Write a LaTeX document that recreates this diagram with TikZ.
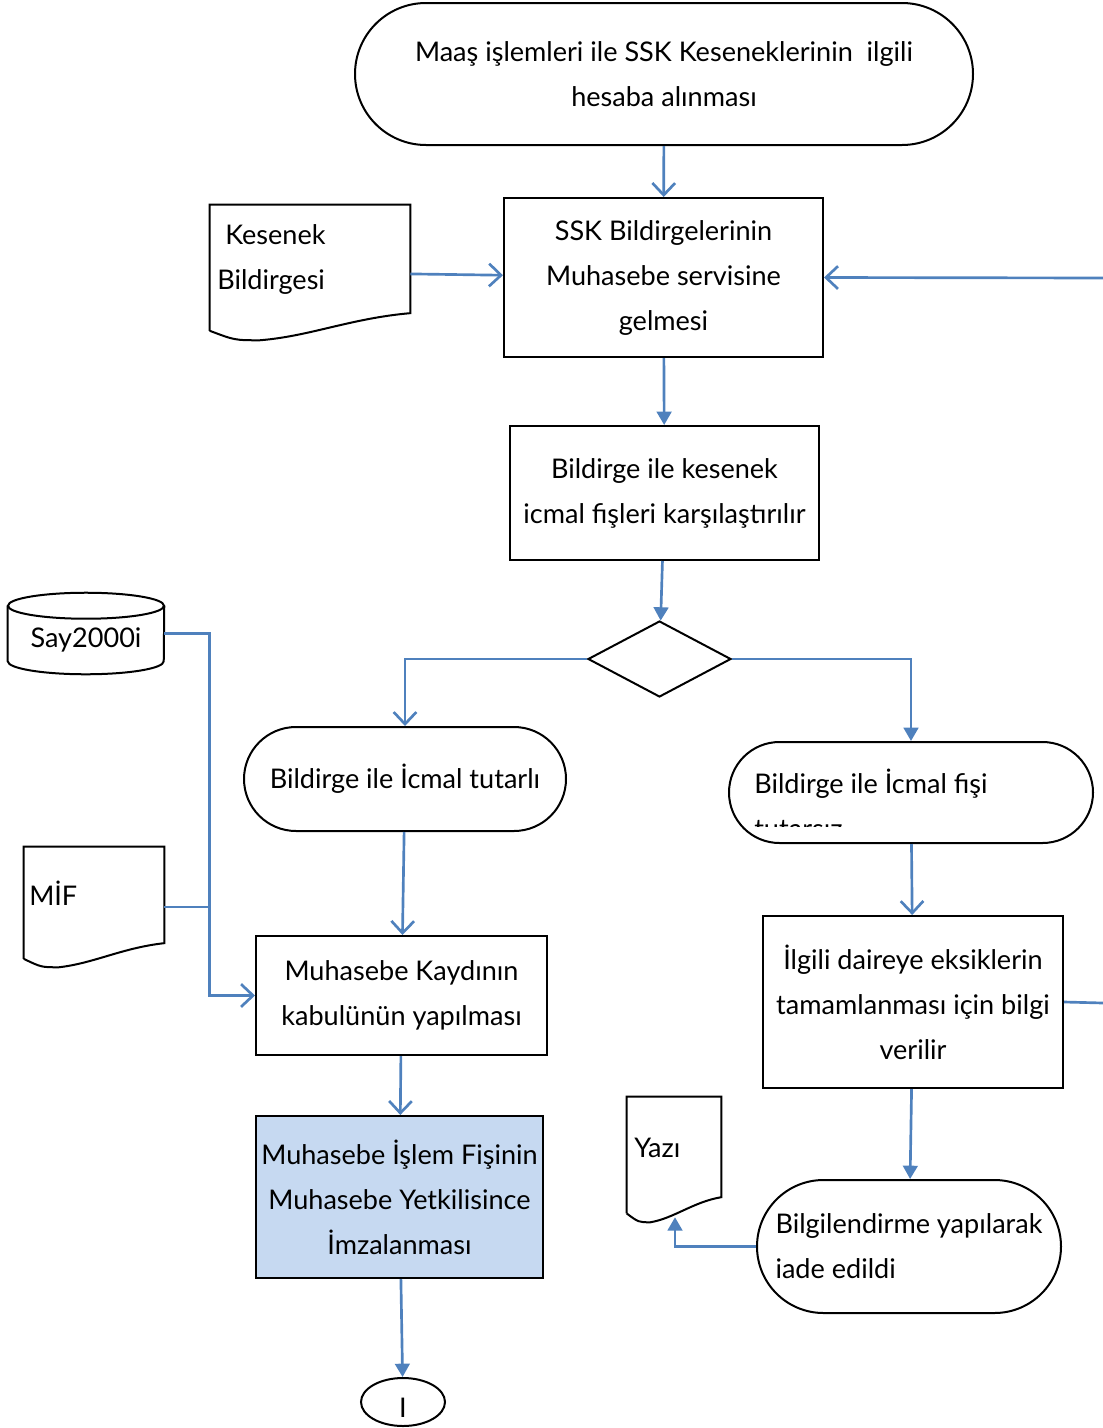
\documentclass[tikz,border=0pt]{standalone}
\usepackage{fontspec}
\setmainfont{Lato}
\usetikzlibrary{arrows.meta,calc,shapes.geometric,shapes.misc,positioning}
\definecolor{okmavi}{HTML}{4F81BD}
\definecolor{fisdolgu}{HTML}{C6D9F1}
\newcommand\pxl{0.75pt}
\newcommand\yazi{\fontsize{20.3}{33.75}\selectfont}
% belge (document) outline round an empty node
\newcommand\belge[1]{%
  \path ($(#1.south east)!0.2!(#1.north east)$) coordinate (#1-r)
        ($(#1.south west)!0.07!(#1.north west)$) coordinate (#1-l)
        ($(#1.south west)!0.25!(#1.south east)$) coordinate (#1-b);
  \draw[line width=1.5pt] (#1-l) -- (#1.north west) -- (#1.north east) -- (#1-r)
    .. controls ($(#1-r)!0.3!(#1-l)$) and ($(#1.south)+(0,-4)$) .. (#1-b)
    .. controls ($(#1-b)!0.5!(#1.south west)$) .. (#1-l);}
\begin{document}
\begin{tikzpicture}[x=0.75pt,y=-0.75pt]
            \tikzset{k/.style={draw,line width=1.5pt,rectangle,inner sep=0pt,align=center,font=\yazi},
                t/.style={draw,line width=1.5pt,rounded rectangle,inner sep=0pt,align=center,font=\yazi},
                bos/.style={inner sep=0pt},
                c/.style={draw=okmavi,line width=2pt},
                ok/.style={c,-{Straight Barb[length=9pt,width=17pt]}},
                dok/.style={c,-{Triangle[length=10pt,width=11pt]}}}
            \useasboundingbox (0,0) rectangle (1103,1428);
            % orta kolon
            \node[t,minimum width=618*\pxl,minimum height=142*\pxl](bas) at (664,74){Maaş işlemleri ile SSK Keseneklerinin\ \ ilgili\\hesaba alınması};
            \node[k,minimum width=319*\pxl,minimum height=159*\pxl](ssk) at (663.5,277.5){SSK Bildirgelerinin\\Muhasebe servisine\\gelmesi};
            \node[k,minimum width=309*\pxl,minimum height=134*\pxl](icmal) at (664.5,493){Bildirge ile kesenek\\icmal fişleri karşılaştırılır};
            \node[draw,line width=1.5pt,diamond,minimum width=143*\pxl,minimum height=76*\pxl,inner sep=0pt](karar) at (659.5,659){};
            % sol kolon
            \node[t,minimum width=322*\pxl,minimum height=104*\pxl](tutarli) at (405,779){Bildirge ile İcmal tutarlı};
            \node[k,minimum width=291*\pxl,minimum height=119*\pxl](kayit) at (401.5,995.5){Muhasebe Kaydının\\kabulünün yapılması};
            \node[k,fill=fisdolgu,minimum width=287*\pxl,minimum height=162*\pxl](imza) at (399.5,1197){Muhasebe İşlem Fişinin\\Muhasebe Yetkilisince\\İmzalanması};
            \node[draw,line width=1.5pt,ellipse,minimum width=84*\pxl,minimum height=48*\pxl,inner sep=0pt,font=\yazi](son) at (403,1402){\raisebox{-4pt}[\height][\depth]{I}};
            % sag kolon
            \node[t,minimum width=364*\pxl,minimum height=101*\pxl](tutarsiz) at (911,792.5){};
            \node[bos,font=\yazi,anchor=base west](fisi) at (754,793){Bildirge ile İcmal fişi};
            \begin{scope}
                \clip (729,742) rectangle (1093,826);
                \node[bos,font=\yazi,anchor=base west](tutarsizyazi) at (754,838){tutarsız};
            \end{scope}
            \node[k,minimum width=300*\pxl,minimum height=172*\pxl](daire) at (913,1002){İlgili daireye eksiklerin\\tamamlanması için bilgi\\verilir};
            \node[t,align=left,minimum width=304*\pxl,minimum height=133*\pxl](iade) at (909,1246.5){Bilgilendirme yapılarak\\iade edildi};
            % belgeler ve veri
            \node[bos,minimum width=200*\pxl,minimum height=135*\pxl](kesenek) at (310,272.5){};
            \belge{kesenek}
            \node[bos,font=\yazi,align=left,anchor=west](kesenekyazi) at (217,259.5){\hspace{6pt}Kesenek\\Bildirgesi};
            \node[bos,minimum width=140*\pxl,minimum height=120*\pxl](mif) at (94,907){};
            \belge{mif}
            \node[bos,font=\yazi,anchor=west](mifyazi) at (29,893){MİF};
            \node[bos,minimum width=94*\pxl,minimum height=125*\pxl](yazi) at (674,1159.5){};
            \belge{yazi}
            \node[bos,font=\yazi,anchor=west](yaziyazi) at (634,1148){Yazı};
            \node[bos,minimum width=156*\pxl,minimum height=81*\pxl,font=\yazi](say) at (86,633.5){\raisebox{-5pt}[\height][\depth]{Say2000i}};
            \draw[line width=1.5pt] ($(say.north)+(0,13)$) ellipse [x radius=78*\pxl,y radius=13*\pxl];
            \draw[line width=1.5pt] ($(say.north west)+(0,13)$) -- ($(say.south west)+(0,-13)$) arc[start angle=180,end angle=360,x radius=78*\pxl,y radius=13*\pxl] -- ($(say.north east)+(0,13)$);
            % oklar
            \foreach \x/\y in {bas/ssk,kesenek/ssk,tutarli/kayit,kayit/imza,tutarsiz/daire}
            \draw[ok](\x)--(\y);
            \foreach \x/\y in {ssk/icmal,icmal/karar,imza/son,daire/iade}
            \draw[dok](\x)--(\y);
            \draw[ok](karar.west)-|(tutarli.north);
            \draw[dok](karar.east)-|(tutarsiz.north);
            \path(say.east)++(45,0)coordinate(kol);
            \draw[ok](say.east)--(kol)|-(kayit.west);
            \draw[c](mif.east)--(mif.east-|kol);
            \draw[dok](iade.west)-|($(yazi.south)+(1,-5)$);
            \coordinate(sagust) at (1103,278);
            \coordinate(sagalt) at (1103,1003);
            \draw[ok](sagust)--(ssk.east);
            \draw[c](daire.east)--(sagalt);
        \end{tikzpicture}
\end{document}
